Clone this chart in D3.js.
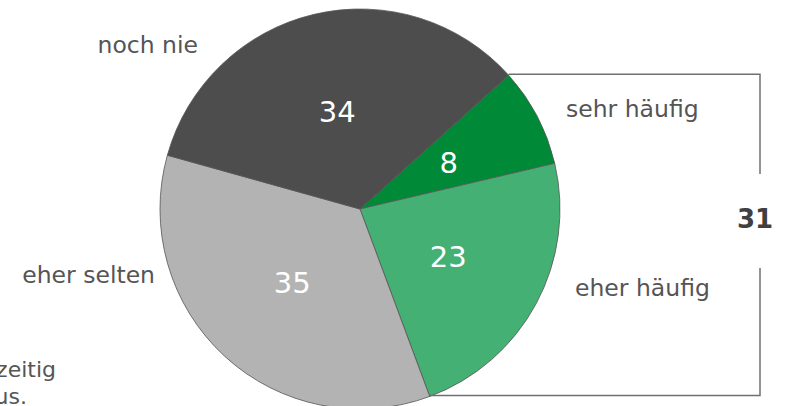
<!DOCTYPE html>
<html>
<meta charset="utf-8">
<title>Pie</title>
<style>
body {
  margin: 0;
  font-family: "DejaVu Sans", Verdana, sans-serif;
  background: #fff;
}
.slice {
  stroke: #555;
  stroke-width: 0.8px;
}
.value {
  fill: #fff;
  font-size: 29px;
  text-anchor: middle;
}
.cat {
  fill: #555;
  font-size: 23.5px;
}
.bracket {
  fill: none;
  stroke: #707070;
  stroke-width: 1.5px;
}
</style>
<body>
<div id="chart"></div>
<script src="https://d3js.org/d3.v7.min.js"></script>
<script>

// data
var categories = ["sehr häufig", "eher häufig", "eher selten", "noch nie"];
var values = [8, 23, 35, 34];
var colors = ["#008a38", "#45b073", "#b3b3b3", "#4d4d4d"];

var width = 795,
  height = 406,
  cx = 360,
  cy = 209,
  radius = 200;

// label layout (x, y, anchor)
var labelPos = {
  "sehr häufig": [566, 117, "start"],
  "eher häufig": [575, 296, "start"],
  "eher selten": [155, 283, "end"],
  "noch nie": [198, 53, "end"]
};

var svg = d3.select("#chart").append("svg")
  .attr("width", width)
  .attr("height", height);

var start = 48 * Math.PI / 180;

var pie = d3.pie()
  .sort(null)
  .startAngle(start)
  .endAngle(start + 2 * Math.PI);

var arcs = pie(values);

var arc = d3.arc()
  .innerRadius(0)
  .outerRadius(radius);

var g = svg.append("g")
  .attr("transform", "translate(" + cx + "," + cy + ")");

g.selectAll(".slice")
  .data(arcs)
  .enter().append("path")
  .attr("class", "slice")
  .attr("d", arc)
  .style("fill", function(d, i) { return colors[i]; });

g.selectAll(".value")
  .data(arcs)
  .enter().append("text")
  .attr("class", "value")
  .attr("transform", function(d) {
    var c = arc.centroid(d);
    return "translate(" + c[0] + "," + c[1] + ")";
  })
  .attr("dy", ".36em")
  .text(function(d) { return d.data; });

svg.selectAll(".cat")
  .data(categories)
  .enter().append("text")
  .attr("class", "cat")
  .attr("x", function(d) { return labelPos[d][0]; })
  .attr("y", function(d) { return labelPos[d][1]; })
  .attr("text-anchor", function(d) { return labelPos[d][2]; })
  .text(function(d) { return d; });

// bracket around the two "häufig" slices
function edge(a) {
  return [cx + radius * Math.sin(a), cy - radius * Math.cos(a)];
}
var p1 = edge(arcs[0].startAngle),
  p2 = edge(arcs[1].endAngle),
  bx = 760;

svg.append("path")
  .attr("class", "bracket")
  .attr("d", "M" + p1[0] + "," + (p1[1] - 1) + "H" + bx + "V174");
svg.append("path")
  .attr("class", "bracket")
  .attr("d", "M" + bx + ",268V" + (p2[1] - 1) + "H" + p2[0]);

svg.append("text")
  .attr("x", bx - 5)
  .attr("y", 228)
  .attr("text-anchor", "middle")
  .style("font-size", "26px")
  .style("font-weight", "bold")
  .style("fill", "#404040")
  .text(values[0] + values[1]);

// footnote, cut at the left edge as in the source
var note = svg.append("text")
  .attr("class", "cat")
  .attr("text-anchor", "end")
  .style("font-size", "22px");
note.append("tspan").attr("x", 56).attr("y", 377).text("rechtzeitig");
note.append("tspan").attr("x", 27).attr("y", 404).text("aus.");

</script>
</body>
</html>
